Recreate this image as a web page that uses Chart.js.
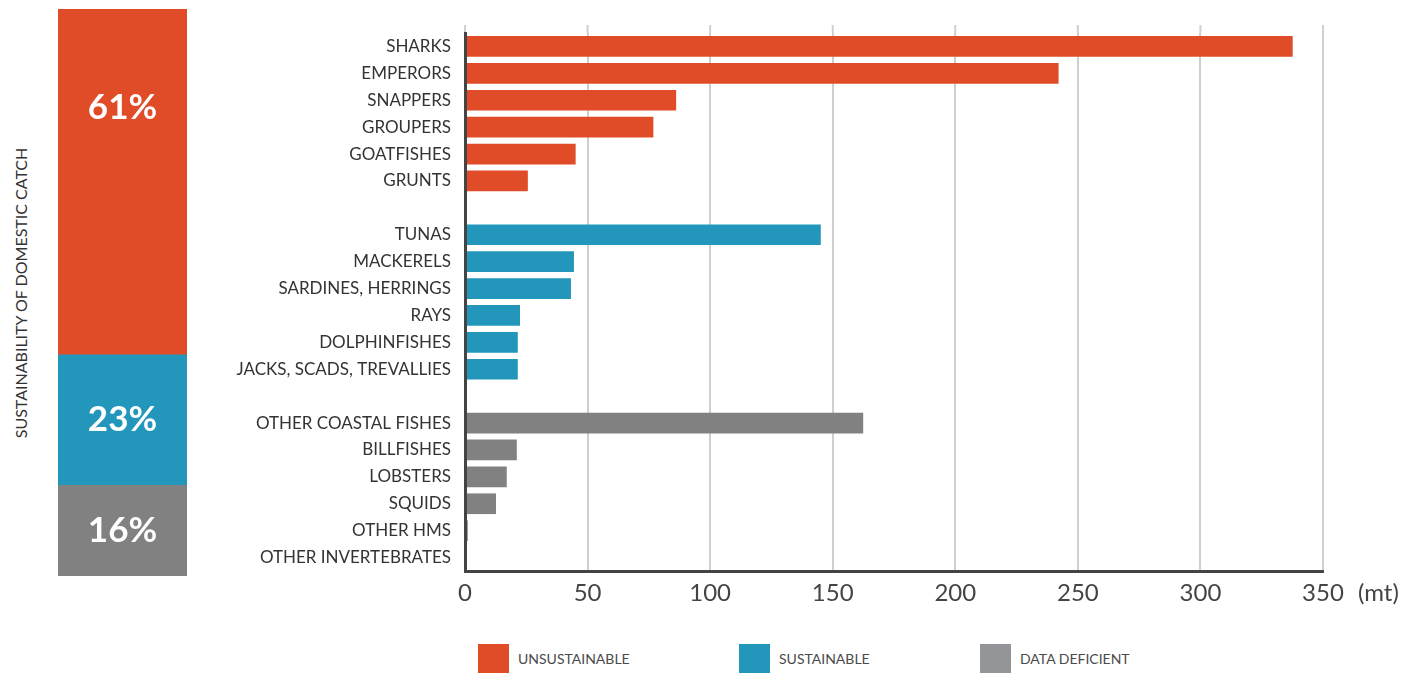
<!DOCTYPE html>
<html>
<head>
<meta charset="utf-8" />
<title>Sustainability of domestic catch</title>
<script src="https://cdn.jsdelivr.net/npm/chart.js@4.4.1/dist/chart.umd.min.js"></script>
<style>
  body { margin: 0; background: #fff; font-family: Lato, sans-serif; }
  #page { position: relative; width: 1419px; height: 673px; overflow: hidden; }
  #shareBox { position: absolute; left: 58px; top: 9px; width: 129px; height: 567px; }
  #mainBox { position: absolute; left: 190px; top: 0; width: 1225px; height: 612px; }
  #sideTitle { position: absolute; left: 20px; top: 293px; transform: translate(-50%, -50%) rotate(-90deg);
               white-space: nowrap; font-size: 16px; color: #333; }
  #legend { position: absolute; left: 478px; top: 644px; display: flex; }
  .item { display: flex; align-items: center; }
  .swatch { width: 31px; height: 29px; margin-right: 9px; }
  .item span { font-size: 14px; color: #4a4a4a; }
</style>
</head>
<body>
<div id="page">
  <div id="sideTitle">SUSTAINABILITY OF DOMESTIC CATCH</div>
  <div id="shareBox"><canvas id="shareChart"></canvas></div>
  <div id="mainBox"><canvas id="catchChart"></canvas></div>
  <div id="legend"></div>
</div>

<script>
// groups
var groupNames = ["UNSUSTAINABLE", "SUSTAINABLE", "DATA DEFICIENT"];
var groupShares = [61, 23, 16];   // % of domestic catch

// catch per family (mt)
var unsustainableNames = ["SHARKS", "EMPERORS", "SNAPPERS", "GROUPERS", "GOATFISHES", "GRUNTS"];
var unsustainableCatch = [337.5, 242, 86, 76.7, 45, 25.5];

var sustainableNames = ["TUNAS", "MACKERELS", "SARDINES, HERRINGS", "RAYS", "DOLPHINFISHES", "JACKS, SCADS, TREVALLIES"];
var sustainableCatch = [145, 44.3, 43.1, 22.3, 21.4, 21.4];

var deficientNames = ["OTHER COASTAL FISHES", "BILLFISHES", "LOBSTERS", "SQUIDS", "OTHER HMS", "OTHER INVERTEBRATES"];
var deficientCatch = [162.3, 21, 16.9, 12.5, 1, 0.3];

var xTicks = [0, 50, 100, 150, 200, 250, 300, 350];
var xUnit = "(mt)";

var colors = ["#e04c27", "#2397bb", "#818181"];
var legendColors = ["#e04c27", "#2397bb", "#939598"];

Chart.defaults.font.family = "Lato";

// build category list with a blank row between groups
var groups = [[unsustainableNames, unsustainableCatch], [sustainableNames, sustainableCatch], [deficientNames, deficientCatch]];
var labels = [];
var series = [[], [], []];
groups.forEach(function (g, gi) {
    if (gi > 0) {
        labels.push("");
        series.forEach(function (s) { s.push(null); });
    }
    g[0].forEach(function (name, i) {
        labels.push(name);
        series.forEach(function (s, si) { s.push(si === gi ? g[1][i] : null); });
    });
});

var gridTopPlugin = {
    id: "gridTop",
    beforeDatasetsDraw: function (chart) {
        var ctx = chart.ctx, xs = chart.scales.x, top = chart.chartArea.top;
        ctx.save();
        ctx.strokeStyle = "#cfcfcf";
        ctx.lineWidth = 2;
        xTicks.forEach(function (v) {
            var px = xs.getPixelForValue(v);
            ctx.beginPath();
            ctx.moveTo(px, top - 8);
            ctx.lineTo(px, top);
            ctx.stroke();
        });
        ctx.restore();
    }
};

var unitPlugin = {
    id: "unit",
    afterDraw: function (chart) {
        var ctx = chart.ctx, xs = chart.scales.x;
        ctx.save();
        ctx.font = "24px Lato";
        ctx.fillStyle = "#444";
        ctx.textAlign = "left";
        ctx.textBaseline = "middle";
        ctx.fillText(xUnit, xs.getPixelForValue(xTicks[xTicks.length - 1]) + 35, xs.top + 22);
        ctx.restore();
    }
};

var catchChart = new Chart(document.getElementById("catchChart"), {
    type: "bar",
    data: {
        labels: labels,
        datasets: series.map(function (s, i) {
            return { label: groupNames[i], data: s, backgroundColor: colors[i], barThickness: 20 };
        })
    },
    options: {
        indexAxis: "y",
        responsive: true,
        maintainAspectRatio: false,
        animation: false,
        layout: { padding: { top: 33, right: 92, left: 0, bottom: 0 } },
        plugins: { legend: { display: false }, tooltip: { enabled: false } },
        scales: {
            x: {
                stacked: true,
                min: 0,
                max: 350,
                ticks: { stepSize: 50, padding: 8, color: "#444", font: { size: 24 } },
                grid: { color: "#cfcfcf", lineWidth: 2, drawTicks: false },
                border: { color: "#444", width: 3, z: 1 },
                afterFit: function (scale) { scale.height = 41; }
            },
            y: {
                stacked: true,
                ticks: { autoSkip: false, padding: 6, color: "#333", font: { size: 17 } },
                grid: { display: false },
                border: { color: "#444", width: 3, z: 1 },
                afterFit: function (scale) { scale.width = 275; }
            }
        }
    },
    plugins: [gridTopPlugin, unitPlugin]
});

// share bar on the left
var shareLabelPlugin = {
    id: "shareLabels",
    afterDatasetsDraw: function (chart) {
        var ctx = chart.ctx;
        ctx.save();
        ctx.font = "bold 35px Lato";
        ctx.fillStyle = "#fff";
        ctx.textAlign = "center";
        ctx.textBaseline = "middle";
        chart.data.datasets.forEach(function (ds, i) {
            var bar = chart.getDatasetMeta(i).data[0];
            var top = Math.min(bar.y, bar.base);
            var h = Math.abs(bar.base - bar.y);
            ctx.fillText(ds.data[0] + "%", bar.x, top + Math.min(h / 2, 99));
        });
        ctx.restore();
    }
};

// stacked from the bottom: data deficient, sustainable, unsustainable
var shareOrder = [2, 1, 0];
var shareChart = new Chart(document.getElementById("shareChart"), {
    type: "bar",
    data: {
        labels: [""],
        datasets: shareOrder.map(function (i) {
            return { label: groupNames[i], data: [groupShares[i]], backgroundColor: colors[i],
                     barPercentage: 1, categoryPercentage: 1 };
        })
    },
    options: {
        responsive: true,
        maintainAspectRatio: false,
        animation: false,
        layout: { padding: 0 },
        plugins: { legend: { display: false }, tooltip: { enabled: false } },
        scales: {
            x: { stacked: true, display: false },
            y: { stacked: true, display: false, min: 0, max: 100 }
        }
    },
    plugins: [shareLabelPlugin]
});

// legend
var legendSlots = [261, 241, 200];
var legend = document.getElementById("legend");
groupNames.forEach(function (name, i) {
    var item = document.createElement("div");
    item.className = "item";
    item.style.width = legendSlots[i] + "px";
    item.innerHTML = '<div class="swatch" style="background:' + legendColors[i] + '"></div><span>' + name + '</span>';
    legend.appendChild(item);
});
</script>
</body>
</html>
